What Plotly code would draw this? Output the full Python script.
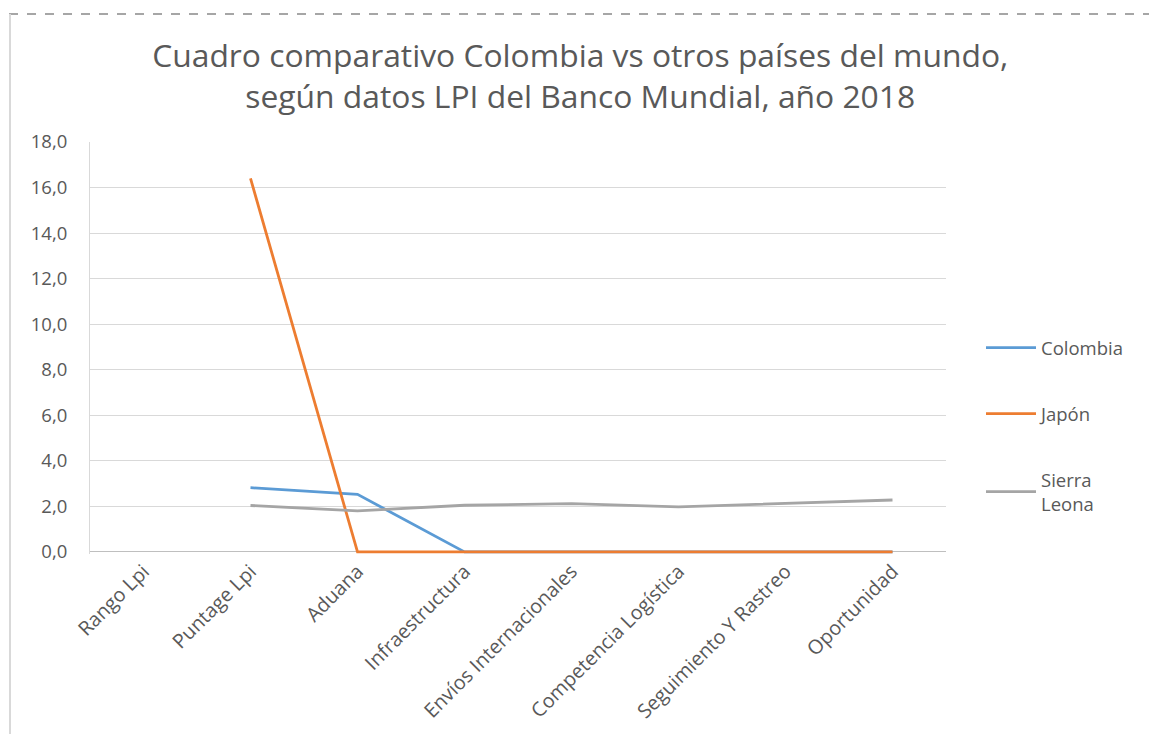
import plotly.graph_objects as go

categories = ["Rango Lpi", "Puntage Lpi", "Aduana", "Infraestructura",
              "Envíos Internacionales", "Competencia Logística",
              "Seguimiento Y Rastreo", "Oportunidad"]
colombia = [None, 2.82, 2.53, 0.0, 0.0, 0.0, 0.0, 0.0]
japon = [None, 16.4, 0.0, 0.0, 0.0, 0.0, 0.0, 0.0]
sierra_leona = [None, 2.04, 1.80, 2.05, 2.12, 1.98, 2.13, 2.28]
y_ticks = [0, 2, 4, 6, 8, 10, 12, 14, 16, 18]

W, H = 1149, 734
L, R, T, B = 90, 203, 142, 180
FONT = "Open Sans"
GRAY = "#595959"
TICK = 18.5

fig = go.Figure()
series = [("Colombia", colombia, "#5B9BD5"),
          ("Japón", japon, "#ED7D31"),
          ("Sierra<br>Leona", sierra_leona, "#A5A5A5")]
for i, (name, vals, col) in enumerate(series):
    fig.add_trace(go.Scatter(x=categories, y=vals, name=name, mode="lines",
                             line=dict(color=col, width=2.8),
                             legendgroup=f"g{i}", connectgaps=False))

def px_x(p):
    return (p - L) / (W - L - R)

def px_y(p):
    return (H - B - p) / (H - T - B)

fig.update_layout(
    width=W, height=H,
    margin=dict(l=L, r=R, t=T, b=B, autoexpand=False),
    paper_bgcolor="white", plot_bgcolor="white",
    separators=",.",
    font=dict(family=FONT, color=GRAY, size=TICK),
    title=dict(text="Cuadro comparativo Colombia vs otros países del mundo,<br>según datos LPI del Banco Mundial, año 2018",
               x=0.505, xanchor="center", y=1 - 67 / H, yanchor="middle",
               font=dict(family=FONT, size=31.8, color=GRAY)),
    xaxis=dict(type="category", range=[-0.5, 7.5], tickangle=-45,
               showgrid=False, showline=False,
               layer="below traces", ticklabelstandoff=1, automargin=False,
               ticks="", tickfont=dict(size=19.8, color=GRAY), zeroline=False),
    yaxis=dict(range=[-0.09, 18], tickvals=y_ticks, tickformat=".1f",
               showgrid=True, gridcolor="#D9D9D9", gridwidth=1,
               showline=True, linecolor="#D9D9D9", zeroline=True,
               zerolinecolor="#BFBFBF", zerolinewidth=1,
               layer="below traces", automargin=False,
               ticks="", ticklabelstandoff=18, tickfont=dict(size=TICK, color=GRAY)),
    legend=dict(x=px_x(981), y=px_y(329), xanchor="left", yanchor="top",
                font=dict(size=TICK, color=GRAY), tracegroupgap=39,
                bgcolor="rgba(0,0,0,0)", itemwidth=50),
    showlegend=True,
)

# outer frame of the chart object (dashed top, solid left)
fig.add_shape(type="line", xref="paper", yref="paper",
              x0=px_x(9), x1=px_x(1149), y0=px_y(14), y1=px_y(14),
              line=dict(color="#A6A6A6", width=2, dash="dash"))
fig.add_shape(type="line", xref="paper", yref="paper",
              x0=px_x(10), x1=px_x(10), y0=px_y(14), y1=px_y(734),
              line=dict(color="#D9D9D9", width=2))

fig.write_html("out.html")
